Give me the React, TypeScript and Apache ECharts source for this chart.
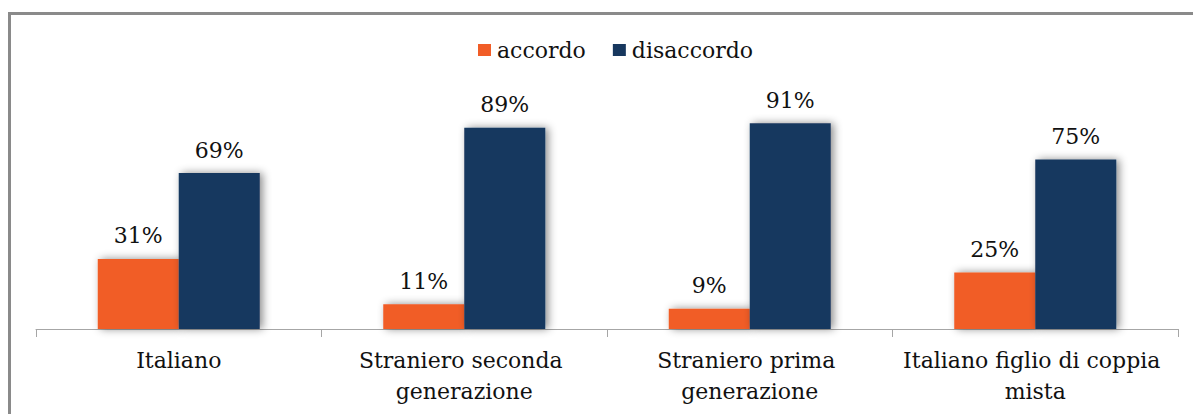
import React, { useEffect, useRef } from "react";
import * as echarts from "echarts";

const categories = [
  "Italiano",
  "Straniero seconda generazione",
  "Straniero prima generazione",
  "Italiano figlio di coppia mista",
];
const seriesNames = ["accordo", "disaccordo"];
const accordo = [31, 11, 9, 25];
const disaccordo = [69, 89, 91, 75];

const FONT = "'DejaVu Serif', 'Liberation Serif', serif";

export default function App() {
  const ref = useRef<HTMLDivElement>(null);
  useEffect(() => {
    if (!ref.current) return;
    const chart = echarts.init(ref.current, null, { renderer: "svg" });
    const labelCfg = {
      show: true,
      position: "top" as const,
      distance: 12,
      formatter: "{c}%",
      fontFamily: FONT,
      fontSize: 22,
      color: "#111",
    };
    chart.setOption({
      animation: false,
      backgroundColor: "transparent",
      legend: {
        data: seriesNames,
        left: 473,
        top: 32,
        icon: "rect",
        itemWidth: 13,
        itemHeight: 12,
        itemGap: 27,
        textStyle: {
          fontFamily: FONT,
          fontSize: 22,
          color: "#111",
          lineHeight: 26,
          padding: [0, 0, 0, 1],
        },
      },
      grid: { left: 36, right: 15, top: 103, bottom: 85, containLabel: false },
      xAxis: {
        type: "category",
        data: categories,
        axisLine: { lineStyle: { color: "#a6a6a6", width: 1 } },
        axisTick: { show: true, length: 8, interval: 0, lineStyle: { color: "#a6a6a6" } },
        axisLabel: {
          interval: 0,
          margin: 16,
          fontFamily: FONT,
          fontSize: 22,
          lineHeight: 31,
          color: "#111",
          width: 278,
          overflow: "break",
        },
      },
      yAxis: {
        type: "value",
        min: 0,
        max: 100,
        show: false,
        splitLine: { show: false },
      },
      series: [
        {
          name: seriesNames[0],
          type: "bar",
          data: accordo,
          barWidth: 81,
          barGap: "0%",
          itemStyle: {
            color: "#F15D27",
            shadowColor: "rgba(0,0,0,0.45)",
            shadowBlur: 8,
            shadowOffsetX: 3,
            shadowOffsetY: 0,
          },
          label: labelCfg,
        },
        {
          name: seriesNames[1],
          type: "bar",
          data: disaccordo,
          barWidth: 81,
          barGap: "0%",
          itemStyle: {
            color: "#17375E",
            shadowColor: "rgba(0,0,0,0.45)",
            shadowBlur: 8,
            shadowOffsetX: 3,
            shadowOffsetY: 0,
          },
          label: labelCfg,
        },
      ],
    });
    return () => chart.dispose();
  }, []);
  return (
    <div
      style={{
        position: "absolute",
        left: 0,
        top: 0,
        width: 1193,
        height: 414,
        background: "#fff",
        overflow: "hidden",
      }}
    >
      <div
        style={{
          position: "absolute",
          left: 8,
          top: 12,
          width: 1300,
          height: 500,
          borderTop: "3px solid #8a8a8a",
          borderLeft: "3px solid #8a8a8a",
          boxSizing: "border-box",
        }}
      />
      <div ref={ref} style={{ position: "absolute", left: 0, top: 0, width: 1193, height: 414 }} />
    </div>
  );
}
